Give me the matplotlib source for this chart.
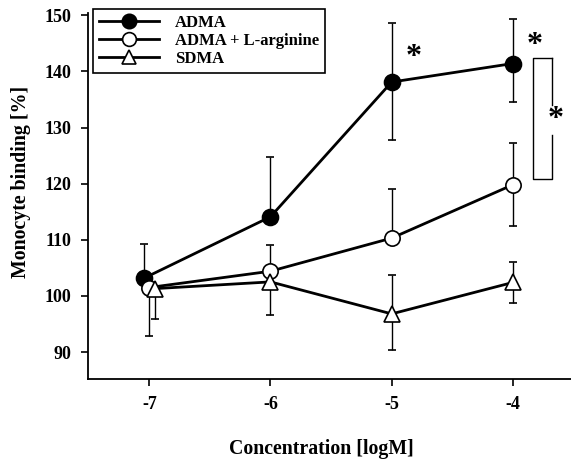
import matplotlib
matplotlib.use("Agg")
import matplotlib.pyplot as plt

# Data
adma_x = [-7.04, -6, -5, -4]
adma_y = [103.2, 114.1, 138.1, 141.4]
adma_lo = [0, 0, 10.3, 6.8]
adma_hi = [6.0, 10.6, 10.6, 8.0]

larg_x = [-7.0, -6, -5, -4]
larg_y = [101.5, 104.4, 110.3, 119.8]
larg_lo = [8.7, 0, 0, 7.3]
larg_hi = [0, 4.7, 8.8, 7.4]

sdma_x = [-6.955, -6, -5, -4]
sdma_y = [101.3, 102.5, 96.8, 102.4]
sdma_lo = [5.5, 5.9, 6.5, 3.6]
sdma_hi = [0, 0, 6.9, 3.6]

xticks = [-7, -6, -5, -4]
yticks = [90, 100, 110, 120, 130, 140, 150]

# significance annotations (data coords)
star_pts = [(-4.82, 142.4), (-3.818, 144.6), (-3.65, 131.4)]
bracket_x = (-3.837, -3.675)
bracket_y = (120.8, 142.45)
bracket_gap = (128.7, 134.1)

plt.rcParams['font.family'] = ['Liberation Serif', 'DejaVu Serif']
plt.rcParams['font.weight'] = 'bold'

fig = plt.figure(figsize=(5.71, 4.68), dpi=100)
ax = fig.add_axes([88/571, (468-379)/468, (571-88)/571, (379-13)/468])

common = dict(color='black', lw=2.0, elinewidth=1.0, capsize=3, capthick=1.0,
              markeredgecolor='black', markeredgewidth=1.2)
c_larg = ax.errorbar(larg_x, larg_y, yerr=[larg_lo, larg_hi], marker='o', ms=11,
                     markerfacecolor='white', zorder=3, **common)
c_sdma = ax.errorbar(sdma_x, sdma_y, yerr=[sdma_lo, sdma_hi], marker='^', ms=11,
                     markerfacecolor='white', zorder=4, **common)
c_adma = ax.errorbar(adma_x, adma_y, yerr=[adma_lo, adma_hi], marker='o', ms=11.5,
                     markerfacecolor='black', zorder=2, **common)

leg = ax.legend([c_adma[0], c_larg[0], c_sdma[0]],
                ['ADMA', 'ADMA + L-arginine', 'SDMA'],
                loc='upper left', bbox_to_anchor=(0.01, 1.01), borderaxespad=0,
                fancybox=False, edgecolor='black', framealpha=1,
                prop={'family': 'Liberation Serif', 'weight': 'bold', 'size': 12},
                handlelength=3.6, labelspacing=0.12, borderpad=0.35,
                handletextpad=1.0, markerscale=0.9)
leg.get_frame().set_linewidth(1.2)

# bracket
bx0, bx1 = bracket_x
by0, by1 = bracket_y
ax.plot([bx1, bx0, bx0, bx1, bx1], [by1, by1, by0, by0, bracket_gap[0]],
        color='black', lw=1.0, clip_on=False)
ax.plot([bx1, bx1], [bracket_gap[1], by1], color='black', lw=1.0, clip_on=False)
for (sx, sy) in star_pts:
    ax.text(sx, sy, '*', fontsize=23, fontweight='bold', ha='center', va='center',
            clip_on=False)

ax.set_xlim(-7.506, -3.52)
ax.set_ylim(85.2, 150.4)
ax.set_xticks(xticks)
ax.set_xticklabels([str(t) for t in xticks])
ax.set_yticks(yticks)
ax.set_yticklabels([str(t) for t in yticks])
ax.spines['top'].set_visible(False)
ax.spines['right'].set_visible(False)
ax.spines['left'].set_linewidth(1.3)
ax.spines['bottom'].set_linewidth(1.3)
ax.tick_params(direction='out', length=5, width=1.2, labelsize=13, pad=7)
for lab in ax.get_xticklabels() + ax.get_yticklabels():
    lab.set_fontweight('bold')

ax.set_xlabel('Concentration [logM]', fontsize=14.3, fontweight='bold')
ax.set_ylabel('Monocyte binding [%]', fontsize=14.3, fontweight='bold')
ax.xaxis.set_label_coords((321 - 88) / 483, -(439 - 379) / 366)
ax.yaxis.set_label_coords(-(88 - 31) / 483, (379 - 182) / 366)

fig.savefig('out.png', dpi=100)
